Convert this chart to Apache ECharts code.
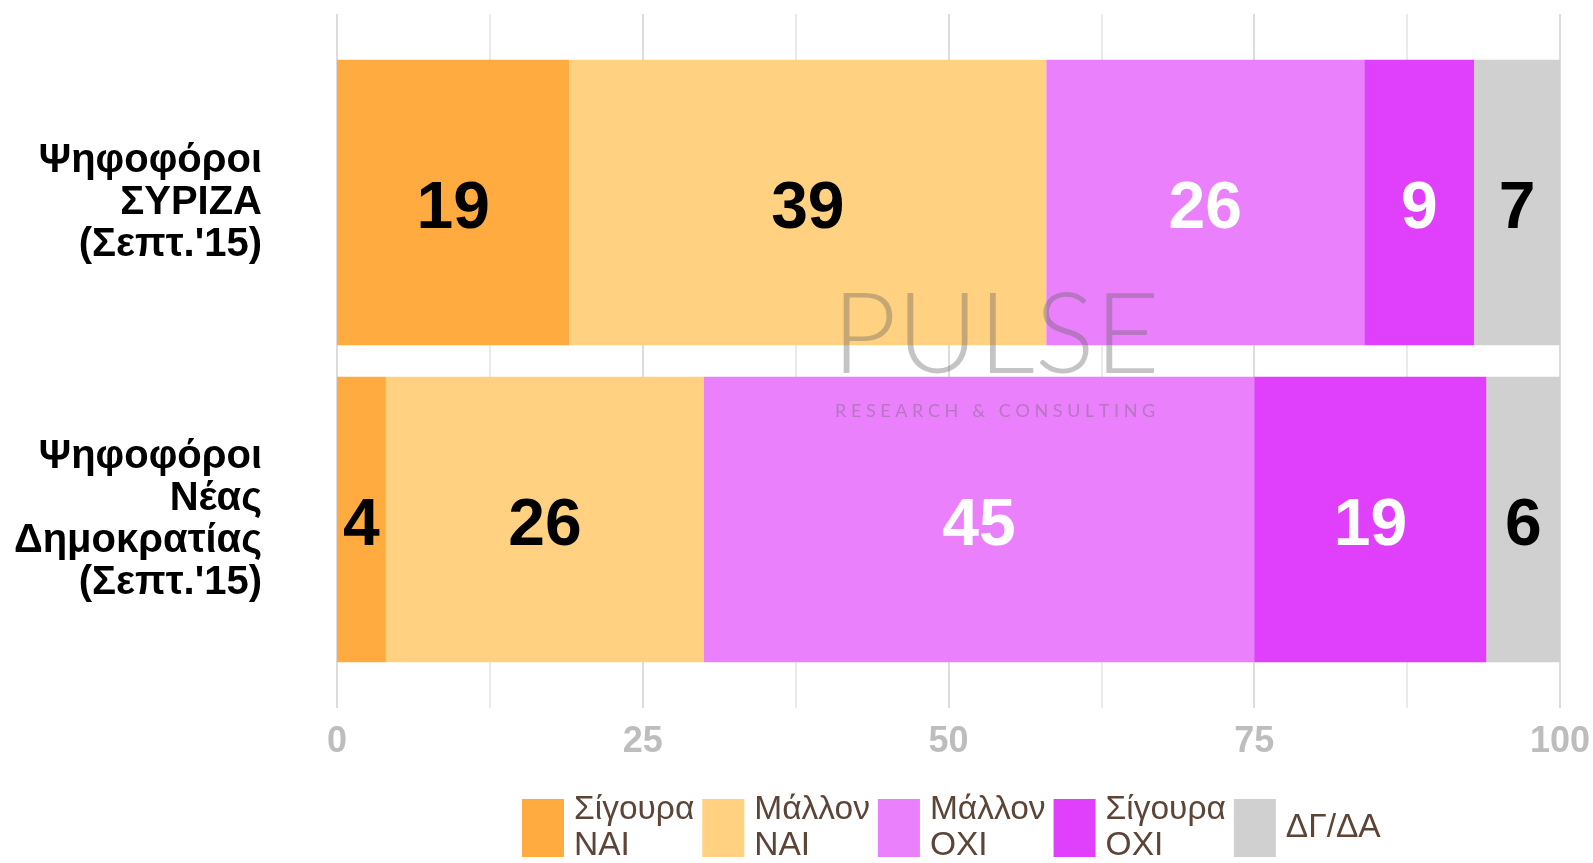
<!DOCTYPE html>
<html>
<head>
<meta charset="utf-8">
<script src="https://cdn.jsdelivr.net/npm/echarts@6/dist/echarts.min.js"></script>
<style>
  html, body { margin: 0; padding: 0; background: #fff; }
  #main { width: 1593px; height: 863px; }
</style>
</head>
<body>
<div id="main"></div>
<script>
// categories (top to bottom)
var categories = ["Ψηφοφόροι\nΣΥΡΙΖΑ\n(Σεπτ.'15)", "Ψηφοφόροι\nΝέας\nΔημοκρατίας\n(Σεπτ.'15)"];

// series names as shown in legend
var seriesNames = ['Σίγουρα\nΝΑΙ', 'Μάλλον\nΝΑΙ', 'Μάλλον\nΟΧΙ', 'Σίγουρα\nΟΧΙ', 'ΔΓ/ΔΑ'];

// values (%)
var surelyYes = [19, 4];
var ratherYes = [39, 26];
var ratherNo = [26, 45];
var surelyNo = [9, 19];
var dontKnow = [7, 6];

var axisMin = 0;
var axisMax = 100;
var axisStep = 25;

var colors = ['#FFAB40', '#FFD180', '#EA80FC', '#E040FB', '#D0D0D0'];
var labelColors = ['#000', '#000', '#fff', '#fff', '#000'];

var chart = echarts.init(document.getElementById('main'));

var values = [surelyYes, ratherYes, ratherNo, surelyNo, dontKnow];
var series = [];
for (var i = 0; i < values.length; i++) {
  series.push({
    name: seriesNames[i],
    type: 'bar',
    stack: 'total',
    xAxisIndex: 1,
    yAxisIndex: 1,
    barCategoryGap: '10%',
    data: values[i],
    itemStyle: { color: colors[i] },
    label: {
      show: true,
      position: 'inside',
      offset: [0, 7],
      color: labelColors[i],
      fontSize: 66,
      fontWeight: 'bold',
      fontFamily: 'Liberation Sans, Arial, sans-serif'
    },
    emphasis: { disabled: true }
  });
}

var option = {
  animation: false,
  backgroundColor: '#fff',
  textStyle: { fontFamily: 'Liberation Sans, Arial, sans-serif' },
  grid: [
    // grid for gridlines + axis labels (extends past bars)
    { left: 337, right: 33, top: 14, bottom: 155 },
    // grid for the bars
    { left: 337, right: 33, top: 44, bottom: 185 }
  ],
  legend: {
    data: seriesNames,
    left: 517,
    top: 787,
    icon: 'rect',
    itemWidth: 42,
    itemHeight: 58,
    itemGap: 8,
    selectedMode: false,
    textStyle: {
      color: '#5c4537',
      fontSize: 33.5,
      lineHeight: 36,
      padding: [0, 0, 0, 5]
    }
  },
  xAxis: [
    {
      type: 'value',
      gridIndex: 0,
      min: axisMin,
      max: axisMax,
      interval: axisStep,
      axisLine: { show: false },
      axisTick: { show: false },
      axisLabel: {
        color: '#bdbdbd',
        fontSize: 36,
        fontWeight: 'bold',
        margin: 16
      },
      splitLine: { show: true, lineStyle: { color: '#dcdcdc', width: 2 } },
      minorTick: { show: false, splitNumber: 2 },
      minorSplitLine: { show: true, lineStyle: { color: '#e3e3e3', width: 1.5 } }
    },
    {
      type: 'value',
      gridIndex: 1,
      min: axisMin,
      max: axisMax,
      show: false
    }
  ],
  yAxis: [
    { type: 'value', gridIndex: 0, min: 0, max: 1, show: false },
    {
      type: 'category',
      gridIndex: 1,
      inverse: true,
      data: categories,
      axisLine: { show: false },
      axisTick: { show: false },
      axisLabel: {
        color: '#000',
        fontSize: 40,
        fontWeight: 'bold',
        lineHeight: 42,
        align: 'right',
        padding: [12, 0, 0, 0],
        margin: 75
      }
    }
  ],
  graphic: [
    {
      type: 'text',
      left: 832,
      top: 281,
      z: 100,
      style: {
        text: 'PULSE',
        fontSize: 112,
        fontWeight: 300,
        fontFamily: 'Lato, DejaVu Sans, sans-serif',
        fill: 'rgba(100,100,100,0.38)'
      }
    },
    {
      type: 'text',
      left: 835,
      top: 402,
      z: 100,
      style: {
        text: 'R E S E A R C H   &   C O N S U L T I N G',
        fontSize: 18,
        fontFamily: 'Lato, DejaVu Sans, sans-serif',
        fill: 'rgba(100,100,100,0.38)'
      }
    }
  ],
  series: series
};

chart.setOption(option);
</script>
</body>
</html>
